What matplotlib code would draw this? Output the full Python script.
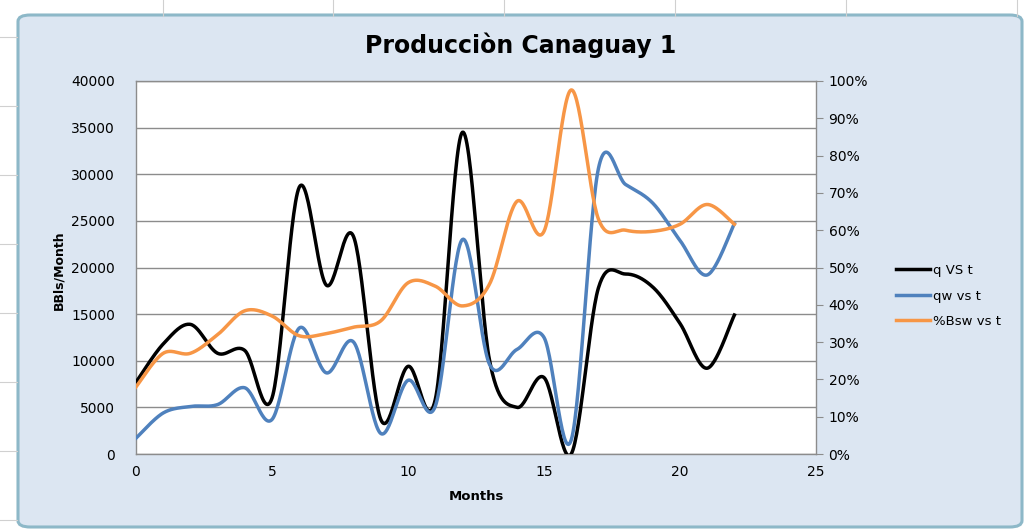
import numpy as np
import matplotlib
matplotlib.use("Agg")
import matplotlib.pyplot as plt
from matplotlib.patches import FancyBboxPatch
from matplotlib.ticker import FuncFormatter, MultipleLocator

months = list(range(23))
q_vst = [7700, 11800, 13900, 10800, 11100, 6000, 28600, 18100, 23300, 3700, 9400,
         5800, 34500, 10000, 5000, 8200, 0, 17800, 19300, 17900, 14000, 9200, 14900]
qw_vst = [1700, 4400, 5100, 5300, 7100, 3700, 13500, 8700, 12000, 2200, 7900,
          5100, 23000, 9600, 11200, 12500, 1500, 30600, 28900, 26900, 22900, 19200, 24700]
bsw_vst = [0.18, 0.27, 0.27, 0.32, 0.384, 0.37, 0.317, 0.323, 0.34, 0.357, 0.459,
           0.45, 0.397, 0.456, 0.677, 0.597, 0.976, 0.63, 0.60, 0.597, 0.616, 0.669, 0.616]

title = "Producciòn Canaguay 1"
labels = ["q VS t", "qw vs t", "%Bsw vs t"]


def smooth(x, y, n=30):
    x = np.asarray(x, float)
    y = np.asarray(y, float)
    px, py = [], []
    m = len(x)
    for i in range(m - 1):
        x0, y0 = (x[i - 1], y[i - 1]) if i > 0 else (x[i], y[i])
        x3, y3 = (x[i + 2], y[i + 2]) if i + 2 < m else (x[i + 1], y[i + 1])
        x1, y1 = x[i], y[i]
        x2, y2 = x[i + 1], y[i + 1]
        c1x, c1y = x1 + (x2 - x0) / 6, y1 + (y2 - y0) / 6
        c2x, c2y = x2 - (x3 - x1) / 6, y2 - (y3 - y1) / 6
        t = np.linspace(0, 1, n, endpoint=(i == m - 2))
        b0 = (1 - t) ** 3
        b1 = 3 * (1 - t) ** 2 * t
        b2 = 3 * (1 - t) * t ** 2
        b3 = t ** 3
        px.append(b0 * x1 + b1 * c1x + b2 * c2x + b3 * x2)
        py.append(b0 * y1 + b1 * c1y + b2 * c2y + b3 * y2)
    return np.concatenate(px), np.concatenate(py)


W, H = 1029, 531
fig = plt.figure(figsize=(W / 100, H / 100), dpi=100)
fig.patch.set_facecolor("white")

# spreadsheet grid behind
for xx in [0.158, 0.324, 0.49, 0.656, 0.822, 0.988]:
    fig.add_artist(plt.Line2D([xx, xx], [0.97, 1.0], color="#d0d0d0", lw=0.8))
for yy in [0.93, 0.80, 0.67, 0.54, 0.41, 0.28, 0.15, 0.02]:
    fig.add_artist(plt.Line2D([0.0, 0.017], [yy, yy], color="#d0d0d0", lw=0.8))

# chart area
chart = FancyBboxPatch((18 / W, 4 / H), (1022 - 18) / W, (516 - 4) / H,
                       boxstyle="round,pad=0,rounding_size=0.012",
                       transform=fig.transFigure, facecolor="#DCE6F2",
                       edgecolor="#8DB8C8", lw=2.2, zorder=0)
fig.add_artist(chart)

left, right, top, bottom = 136, 816, 81, 454
ax = fig.add_axes([left / W, 1 - bottom / H, (right - left) / W, (bottom - top) / H])
ax.set_facecolor("white")
ax.set_xlim(0, 25)
ax.set_ylim(0, 40000)
ax.xaxis.set_major_locator(MultipleLocator(5))
ax.yaxis.set_major_locator(MultipleLocator(5000))
ax.grid(axis="y", color="#8c8c8c", lw=1.0)
ax.set_axisbelow(True)
for s in ax.spines.values():
    s.set_color("#8c8c8c")
    s.set_linewidth(1.0)
ax.tick_params(axis="both", length=0, labelsize=10, colors="#000000", pad=8)
ax.tick_params(axis="y", pad=15)

ax2 = ax.twinx()
ax2.set_ylim(0, 1.0)
ax2.yaxis.set_major_locator(MultipleLocator(0.1))
ax2.yaxis.set_major_formatter(FuncFormatter(lambda v, p: f"{v*100:.0f}%"))
ax2.tick_params(axis="y", length=5, color="#8c8c8c", labelsize=10, pad=4)
for s in ax2.spines.values():
    s.set_visible(False)

sx, sy = smooth(months, q_vst)
l1, = ax.plot(sx, sy, color="black", lw=2.5, label=labels[0], zorder=3)
sx, sy = smooth(months, qw_vst)
l2, = ax.plot(sx, sy, color="#4F81BD", lw=2.5, label=labels[1], zorder=3)
sx, sy = smooth(months, bsw_vst)
l3, = ax2.plot(sx, sy, color="#F79646", lw=2.5, label=labels[2], zorder=3)

fig.text(0.506, 1 - 45 / H, title, ha="center", va="center", fontsize=17,
         fontweight="bold", family="Liberation Sans Narrow")
fig.text(476 / W, 1 - 497 / H, "Months", ha="center", va="center", fontsize=9.5,
         fontweight="bold")
fig.text(59 / W, 1 - 270 / H, "BBls/Month", ha="center", va="center", fontsize=9,
         fontweight="bold", rotation=90, family="Liberation Sans Narrow")

leg = fig.legend(handles=[l1, l2, l3], labels=labels, loc="center left",
                 bbox_to_anchor=(884 / W, 1 - 296 / H), frameon=False,
                 fontsize=9.5, handlelength=2.6, labelspacing=0.95, handletextpad=0.2)

fig.savefig("out.png", dpi=100, facecolor=fig.get_facecolor())
